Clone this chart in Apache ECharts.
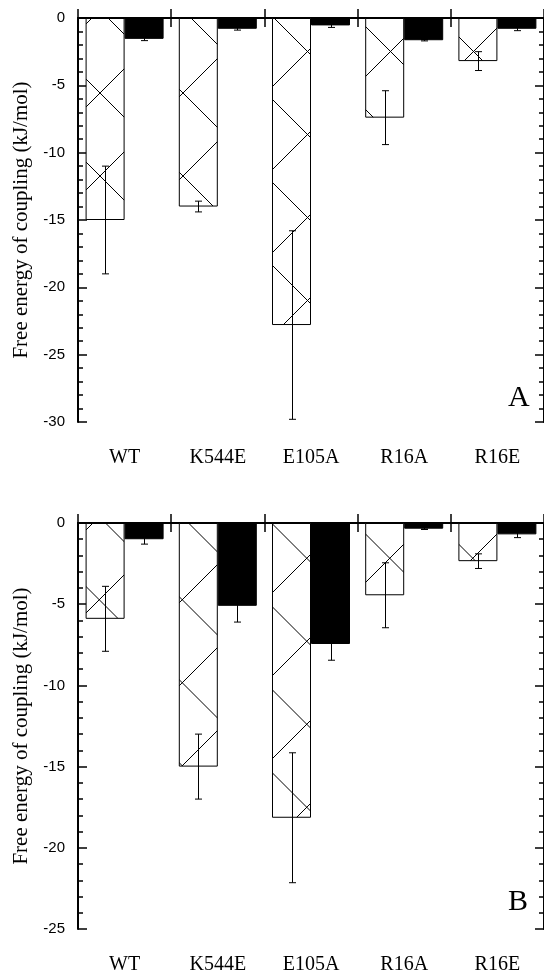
<!DOCTYPE html>
<html>
<head>
<meta charset="utf-8">
<script src="https://cdn.jsdelivr.net/npm/echarts@6/dist/echarts.min.js"></script>
<style>
html,body{margin:0;padding:0;background:#fff;}
#chart{width:544px;height:975px;}
</style>
</head>
<body>
<div id="chart"></div>
<script>
// ---- data ----
const categories = ['WT', 'K544E', 'E105A', 'R16A', 'R16E'];
const aHatched    = [-15.0, -14.0, -22.8, -7.4, -3.2];
const aHatchedErr = [4.0, 0.4, 7.0, 2.0, 0.7];
const aSolid      = [-1.55, -0.8, -0.55, -1.65, -0.8];
const aSolidErr   = [0.13, 0.1, 0.15, 0.05, 0.14];
const bHatched    = [-5.9, -15.0, -18.15, -4.45, -2.35];
const bHatchedErr = [2.0, 2.0, 4.0, 2.0, 0.45];
const bSolid      = [-1.0, -5.1, -7.45, -0.35, -0.7];
const bSolidErr   = [0.3, 1.0, 1.0, 0.05, 0.2];
const aTicks = { min: -30, max: 0, interval: 5 };
const bTicks = { min: -25, max: 0, interval: 5 };
const yName = 'Free energy of coupling (kJ/mol)';

// ---- hatch pattern (crossing diagonals) ----
function hatch(cBack, cFwd) {
  const P = 83;
  const cv = document.createElement('canvas');
  cv.width = P; cv.height = P;
  const g = cv.getContext('2d');
  g.fillStyle = '#fff'; g.fillRect(0, 0, P, P);
  g.strokeStyle = '#000'; g.lineWidth = 1;
  g.beginPath();
  for (let k = -2; k <= 2; k++) {
    g.moveTo(-10, -10 + cBack + P * k); g.lineTo(P + 10, P + 10 + cBack + P * k);
    g.moveTo(-10, cFwd + 10 + P * k); g.lineTo(P + 10, cFwd - P - 10 + P * k);
  }
  g.stroke();
  return { image: cv, repeat: 'repeat' };
}
const patA = hatch(76, 27);
const patB = hatch(2.5, 35);

const BW = 39;
function errItem(offset) {
  return function (params, api) {
    const i = api.value(0), v = api.value(1), e = api.value(2);
    const c = api.coord([i, v]);
    const t = api.coord([i, v + e]);
    const b = api.coord([i, v - e]);
    const x = Math.round(c[0] + offset) + 0.5;
    const hw = 3.5;
    const st = { stroke: '#000', lineWidth: 1 };
    return { type: 'group', children: [
      { type: 'line', shape: { x1: x, y1: t[1], x2: x, y2: b[1] }, style: st },
      { type: 'line', shape: { x1: x - hw, y1: t[1], x2: x + hw, y2: t[1] }, style: st },
      { type: 'line', shape: { x1: x - hw, y1: b[1], x2: x + hw, y2: b[1] }, style: st }
    ]};
  };
}

const grids = [
  { left: 78, top: 18, width: 470, height: 404 },
  { left: 78, top: 523, width: 470, height: 407 }
];
const axLine = { show: true, lineStyle: { color: '#000', width: 2 } };
const xAxes = [], yAxes = [];
[aTicks, bTicks].forEach((tk, gi) => {
  xAxes.push({
    type: 'category', gridIndex: gi, data: categories, position: 'bottom',
    boundaryGap: true, axisLine: axLine,
    axisTick: { show: true, inside: true, length: 9, lineStyle: { color: '#000', width: 1.5 } },
    axisLabel: { fontFamily: 'Liberation Serif', fontSize: 20, color: '#000', margin: 26 },
    splitLine: { show: false }
  });
  xAxes.push({
    type: 'category', gridIndex: gi, data: categories, position: 'top',
    boundaryGap: true, axisLine: axLine,
    axisTick: { show: true, inside: true, length: 9, lineStyle: { color: '#000', width: 1.5 } },
    axisLabel: { show: false }, splitLine: { show: false }
  });
  const yBase = {
    type: 'value', gridIndex: gi, min: tk.min, max: tk.max, interval: tk.interval,
    axisLine: axLine,
    axisTick: { show: true, inside: true, length: 9, lineStyle: { color: '#000', width: 1.5 } },
    minorTick: { show: true, splitNumber: 5, length: 5, lineStyle: { color: '#000', width: 1.5 } },
    splitLine: { show: false }
  };
  yAxes.push(Object.assign({}, yBase, {
    position: 'left',
    name: yName, nameLocation: 'middle', nameGap: 44,
    nameTextStyle: { fontFamily: 'Liberation Serif', fontSize: 21, color: '#000' },
    axisLabel: { fontFamily: 'Liberation Sans', fontSize: 15, color: '#000', margin: 13 }
  }));
  yAxes.push(Object.assign({}, yBase, { position: 'right', axisLabel: { show: false } }));
});

const panels = [
  { h: aHatched, he: aHatchedErr, s: aSolid, se: aSolidErr, pat: patA },
  { h: bHatched, he: bHatchedErr, s: bSolid, se: bSolidErr, pat: patB }
];
const series = [];
panels.forEach((p, gi) => {
  const xi = gi * 2, yi = gi * 2;
  series.push({
    type: 'bar', xAxisIndex: xi, yAxisIndex: yi, data: p.h, barWidth: BW, barGap: '0%',
    itemStyle: { color: p.pat, borderColor: '#000', borderWidth: 1 }, z: 2
  });
  series.push({
    type: 'bar', xAxisIndex: xi, yAxisIndex: yi, data: p.s, barWidth: BW, barGap: '0%',
    itemStyle: { color: '#000', borderColor: '#000', borderWidth: 1 }, z: 2
  });
  series.push({
    type: 'custom', xAxisIndex: xi, yAxisIndex: yi, z: 5,
    renderItem: errItem(-BW / 2), encode: { x: 0, y: 1 },
    data: p.h.map((v, i) => [i, v, p.he[i]])
  });
  series.push({
    type: 'custom', xAxisIndex: xi, yAxisIndex: yi, z: 5,
    renderItem: errItem(BW / 2), encode: { x: 0, y: 1 },
    data: p.s.map((v, i) => [i, v, p.se[i]])
  });
});

const chart = echarts.init(document.getElementById('chart'), null, { renderer: 'canvas' });
chart.setOption({
  animation: false,
  backgroundColor: '#fff',
  grid: grids,
  xAxis: xAxes,
  yAxis: yAxes,
  series: series,
  graphic: [
    { type: 'text', left: 508, top: 383, style: { text: 'A', font: '30px "Liberation Serif"', fill: '#000' } },
    { type: 'text', left: 508, top: 887, style: { text: 'B', font: '30px "Liberation Serif"', fill: '#000' } }
  ]
});
</script>
</body>
</html>
